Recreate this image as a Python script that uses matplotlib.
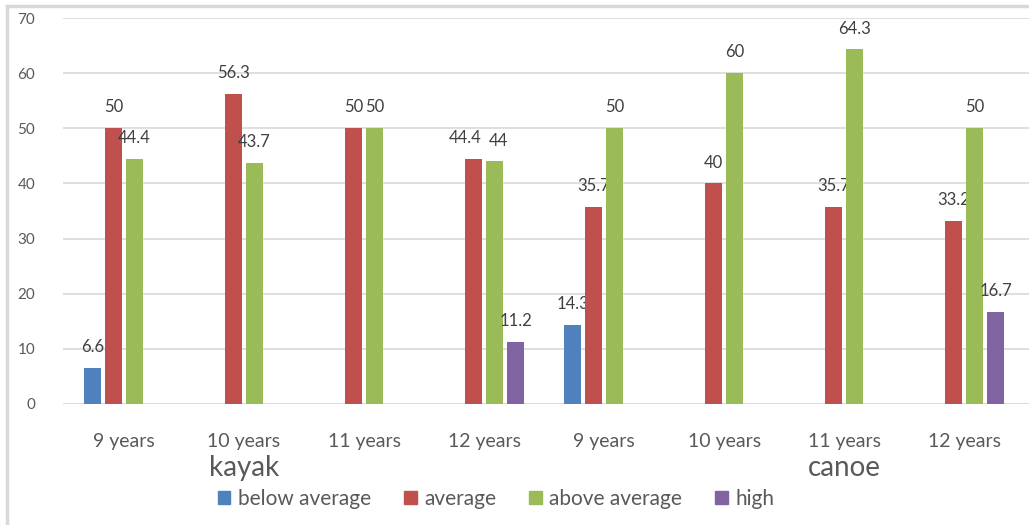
import matplotlib
matplotlib.use("Agg")
import matplotlib.pyplot as plt
import numpy as np
from matplotlib.lines import Line2D

plt.rcParams['font.family'] = ['Lato', 'DejaVu Sans']

# data (0 = no bar)
categories = ['9 years', '10 years', '11 years', '12 years',
              '9 years', '10 years', '11 years', '12 years']
groups = ['kayak', 'canoe']
series = ['below average', 'average', 'above average', 'high']
below_average = [6.6, 0, 0, 0, 14.3, 0, 0, 0]
average = [50, 56.3, 50, 44.4, 35.7, 40, 35.7, 33.2]
above_average = [44.4, 43.7, 50, 44, 50, 60, 64.3, 50]
high = [0, 0, 0, 11.2, 0, 0, 0, 16.7]

colors = ['#4F81BD', '#C0504D', '#9BBB59', '#8064A2']
text_col = '#595959'

# small sideways nudges (points) for labels that would collide
nudge = {(1, 3): -6, (2, 3): 3}

fig = plt.figure(figsize=(10.29, 5.25), dpi=100)
ax = fig.add_axes([0.0612, 0.2305, 0.9388, 0.7352])

x = np.arange(len(categories))
step = 0.175
width = 0.142
handles = []
for k, (name, vals) in enumerate(zip(series, [below_average, average, above_average, high])):
    vals = np.array(vals, dtype=float)
    pos = x + (k - 1.5) * step
    keep = vals > 0
    ax.bar(pos[keep], vals[keep], width=width, color=colors[k], zorder=3)
    for i in np.where(keep)[0]:
        ax.annotate(f'{vals[i]:g}', (pos[i], vals[i]), xytext=(nudge.get((k, i), 0), 15),
                    textcoords='offset points', ha='center', va='center',
                    fontsize=12, color='#404040')
    handles.append(plt.Rectangle((0, 0), 1, 1, color=colors[k]))

ax.set_xlim(-0.508, 7.54)
ax.set_ylim(0, 70)
ax.set_yticks(range(0, 71, 10))
ax.yaxis.grid(True, color='#D9D9D9', linewidth=1.2, zorder=0)
ax.set_axisbelow(True)
for s in ax.spines.values():
    s.set_visible(False)
ax.tick_params(axis='y', length=0, pad=20, labelsize=11, labelcolor=text_col)
ax.tick_params(axis='x', length=0, pad=21, labelsize=14, labelcolor=text_col)
ax.set_xticks(x)
ax.set_xticklabels(categories)
ax.axhline(0, color='#D9D9D9', linewidth=1.2, zorder=1)

# group labels
ax.text(1, -0.165, groups[0], transform=ax.get_xaxis_transform(), ha='center', va='center',
        fontsize=20, color=text_col)
ax.text(6, -0.165, groups[1], transform=ax.get_xaxis_transform(), ha='center', va='center',
        fontsize=20, color=text_col)

fig.legend(handles, series, loc='center', bbox_to_anchor=(0.482, 0.05), ncol=4,
           frameon=False, fontsize=15, labelcolor=text_col, handlelength=0.6,
           handleheight=0.6, handletextpad=0.35, columnspacing=1.6)

# border of the screenshot
fig.add_artist(Line2D([0.007, 0.007], [0, 0.988], transform=fig.transFigure,
                      color='#D9D9D9', linewidth=2.5))
fig.add_artist(Line2D([0.007, 1], [0.988, 0.988], transform=fig.transFigure,
                      color='#D9D9D9', linewidth=2.5))

fig.savefig('out.png', dpi=100)
